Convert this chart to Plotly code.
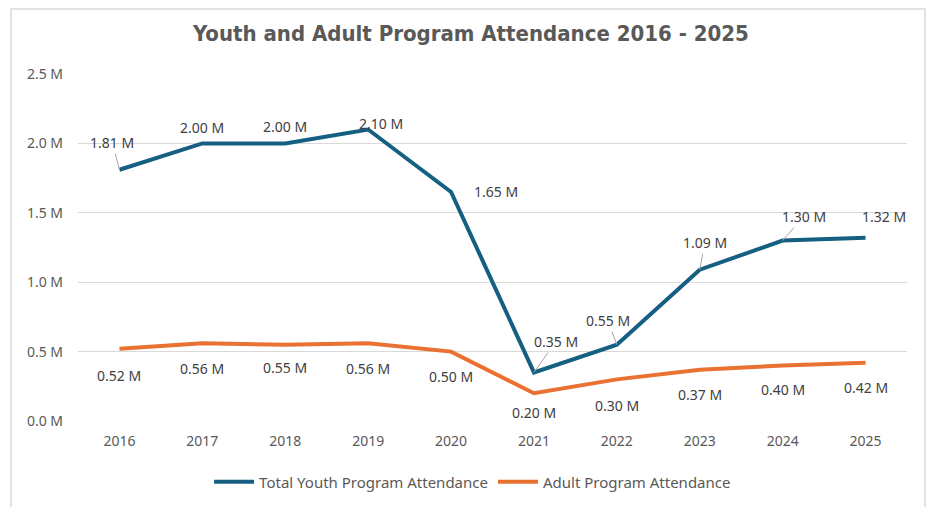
import plotly.graph_objects as go

years = ["2016", "2017", "2018", "2019", "2020", "2021", "2022", "2023", "2024", "2025"]
youth = [1.81, 2.00, 2.00, 2.10, 1.65, 0.35, 0.55, 1.09, 1.30, 1.32]
adult = [0.52, 0.56, 0.55, 0.56, 0.50, 0.20, 0.30, 0.37, 0.40, 0.42]
y_ticks = [0.0, 0.5, 1.0, 1.5, 2.0, 2.5]
y_tick_labels = ["0.0 M", "0.5 M", "1.0 M", "1.5 M", "2.0 M", "2.5 M"]

YOUTH_C = "#156082"
ADULT_C = "#E97132"
TXT = "#404040"
AX_TXT = "#595959"
GRID = "#D9D9D9"

# label offsets (styling)
youth_off = [(-7, -27, True), (0, -16, False), (0, -17, False), (13, -6, False), (45, 0, False),
             (22, -31, True), (-9, -24, True), (5, -27, True), (21, -24, True), (18, -21, False)]
adult_off = [(0, 27, False), (0, 25, False), (0, 23, False), (0, 25, False), (0, 25, False),
             (0, 19, False), (0, 26, False), (0, 25, False), (0, 24, False), (0, 25, False)]

fig = go.Figure()
fig.add_trace(go.Scatter(x=years, y=youth, mode="lines", name="Total Youth Program Attendance",
                         line=dict(color=YOUTH_C, width=4), hoverinfo="skip"))
fig.add_trace(go.Scatter(x=years, y=adult, mode="lines", name="Adult Program Attendance",
                         line=dict(color=ADULT_C, width=4), hoverinfo="skip"))

anns = []
for series, offs in ((youth, youth_off), (adult, adult_off)):
    for i, (v, (ax, ay, lead)) in enumerate(zip(series, offs)):
        anns.append(dict(x=i, y=v, xref="x", yref="y", text=f"{v:.2f} M",
                         showarrow=True, ax=ax, ay=ay, arrowhead=0, arrowwidth=1,
                         arrowcolor="#A6A6A6" if lead else "rgba(0,0,0,0)", standoff=0,
                         font=dict(family="Noto Sans", size=14, color=TXT)))

fig.update_layout(
    width=927, height=499,
    margin=dict(l=70, r=28, t=66, b=86, autoexpand=False),
    paper_bgcolor="white", plot_bgcolor="white",
    title=dict(text="<b>Youth and Adult Program Attendance 2016 - 2025</b>",
               x=0.474, xref="paper", xanchor="center", y=0.95, yref="container", yanchor="middle",
               font=dict(family="DejaVu Sans Condensed", size=22, color=AX_TXT)),
    xaxis=dict(type="category", range=[-0.5, 9.5], autorange=False, showgrid=False,
               showline=False, ticks="",
               tickfont=dict(family="Noto Sans", size=14, color=AX_TXT), ticklabelstandoff=10),
    yaxis=dict(range=[0, 2.5], autorange=False, tickvals=y_ticks, ticktext=y_tick_labels,
               showgrid=True, gridcolor=GRID, gridwidth=1, zeroline=False, showline=False,
               ticks="", tickfont=dict(family="Noto Sans", size=14, color=AX_TXT),
               ticklabelstandoff=14),
    legend=dict(orientation="h", x=0.476, xanchor="center", y=-0.176, yanchor="middle",
                font=dict(family="Noto Sans", size=15, color=AX_TXT), itemwidth=40,
                tracegroupgap=0),
    annotations=anns,
    shapes=[dict(type="rect", xref="paper", yref="paper",
                 x0=(11 - 78) / 829, x1=(925 - 78) / 829,
                 y0=(421 - 512) / 347, y1=(421 - 9) / 347,
                 line=dict(color=GRID, width=1.5), fillcolor="rgba(0,0,0,0)", layer="below")],
    showlegend=True,
)
fig.write_html("out.html")
